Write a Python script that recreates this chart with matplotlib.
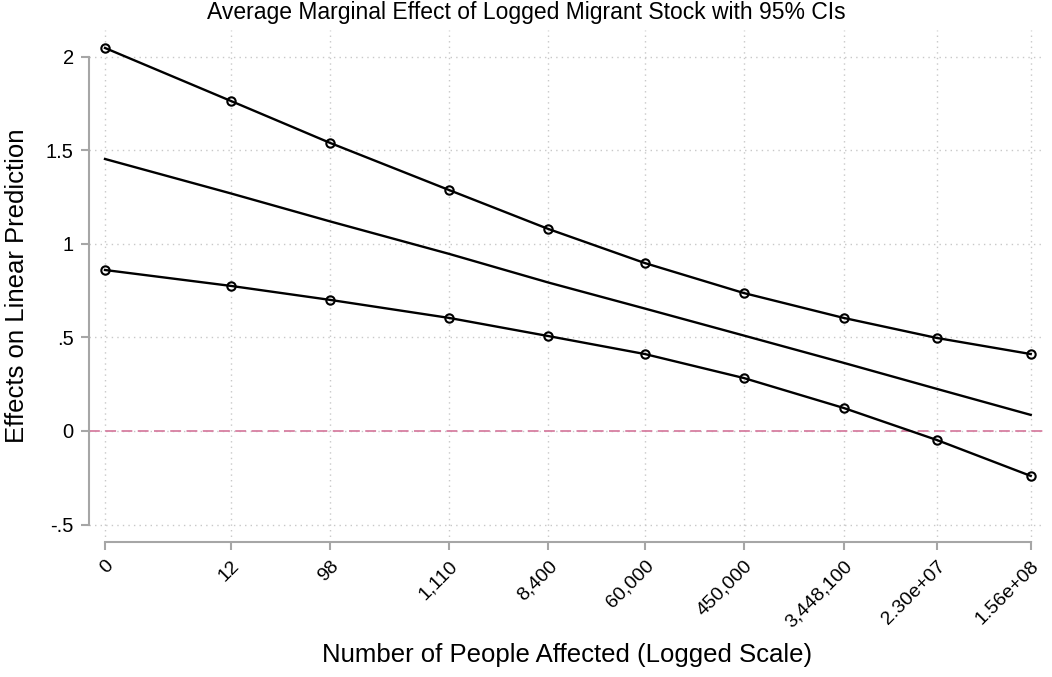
import matplotlib.pyplot as plt
import numpy as np

plt.rcParams['font.family'] = ['Liberation Sans', 'DejaVu Sans']

# data
people = [0, 12, 98, 1110, 8400, 60000, 450000, 3448100, 2.30e7, 1.56e8]
tick_labels = ['0', '12', '98', '1,110', '8,400', '60,000', '450,000',
               '3,448,100', '2.30e+07', '1.56e+08']
upper = [2.046, 1.763, 1.538, 1.287, 1.079, 0.897, 0.737, 0.604, 0.497, 0.411]
lower = [0.860, 0.775, 0.700, 0.604, 0.507, 0.411, 0.283, 0.123, -0.048, -0.240]
estimate = [1.453, 1.269, 1.119, 0.946, 0.793, 0.654, 0.510, 0.364, 0.225, 0.086]

x = np.log1p(people)

fig = plt.figure(figsize=(10.52, 6.77), dpi=100)
ax = fig.add_axes([0.0846, 0.1994, 0.9087, 0.7563])

grey = '#a6a6a6'
ax.grid(True, linestyle=(0, (1, 3)), color='#c8c8c8', linewidth=1)
ax.set_axisbelow(True)

ax.axhline(0, color='#d77fa1', linestyle=(0, (6, 3)), linewidth=1.3, zorder=1)

ax.plot(x, estimate, color='black', linewidth=1.7, zorder=3)
ax.plot(x, upper, color='black', linewidth=1.7, marker='o', markersize=6,
        markerfacecolor='none', markeredgewidth=1.5, zorder=3)
ax.plot(x, lower, color='black', linewidth=1.7, marker='o', markersize=6,
        markerfacecolor='none', markeredgewidth=1.5, zorder=3)

ax.set_xlim(x[0] - 0.326, x[-1] + 0.29)
ax.set_ylim(-0.593, 2.142)

yticks = [-0.5, 0, 0.5, 1, 1.5, 2]
ax.set_yticks(yticks)
ax.set_yticklabels(['-.5', '0', '.5', '1', '1.5', '2'], fontsize=14.5)
ax.set_xticks(x)
ax.set_xticklabels(tick_labels, rotation=45, ha='right', va='top',
                   rotation_mode='anchor', fontsize=14)

for s in ['top', 'right']:
    ax.spines[s].set_visible(False)
for s in ['left', 'bottom']:
    ax.spines[s].set_color(grey)
    ax.spines[s].set_linewidth(1.5)
ax.spines['left'].set_bounds(-0.5, 2)
ax.spines['bottom'].set_bounds(x[0], x[-1])
ax.tick_params(axis='both', color=grey, width=1.5, length=6, pad=5)

ax.set_ylabel('Effects on Linear Prediction', fontsize=18.5, labelpad=12)
ax.set_xlabel('Number of People Affected (Logged Scale)', fontsize=18.5, va='center')
ax.xaxis.set_label_coords(0.5, -0.221)
fig.text(0.5, 0.981, 'Average Marginal Effect of Logged Migrant Stock with 95% CIs',
         ha='center', va='center', fontsize=16.5)

fig.savefig('out.png', dpi=100)
